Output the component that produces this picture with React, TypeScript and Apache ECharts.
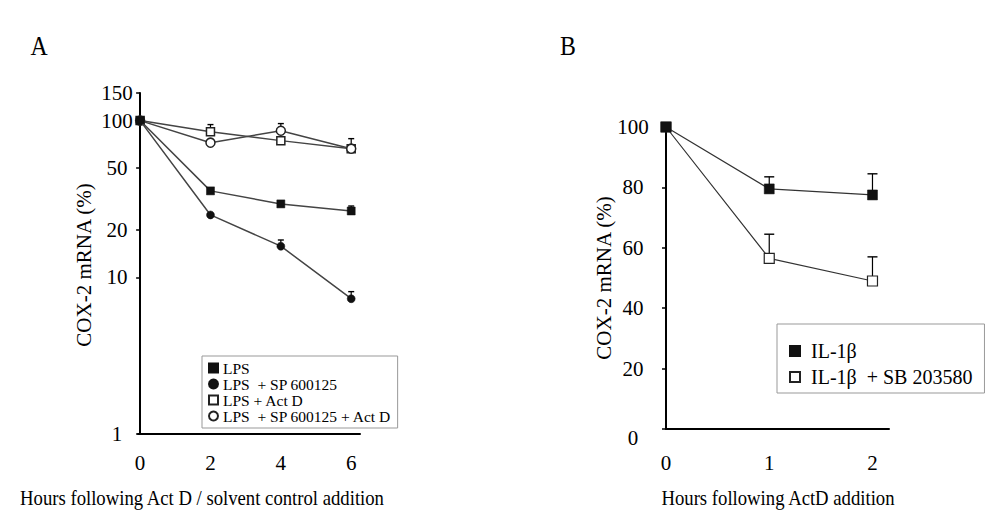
import React, { useEffect, useRef } from "react";
import * as echarts from "echarts";

// ---------- Panel A data (log scale) ----------
const hoursA = [0, 2, 4, 6];
const lps = [100, 35.6, 29.4, 26.5];
const lpsSp = [100, 25, 15.8, 7.3];
const lpsActD = [100, 85, 74.5, 66.2];
const lpsSpActD = [100, 72.3, 86.2, 66.2];
const lpsErrTop = [null, null, null, 28.5];
const lpsSpErrTop = [null, null, 17.3, 8.1];
const lpsActDErrTop = [null, 94.3, null, 76.7];
const lpsSpActDErrTop = [null, null, 95.7, null];
const yTicksA = [1, 10, 20, 50, 100, 150];
const xTicksA = [0, 2, 4, 6];
const namesA = [
  "LPS",
  "LPS\u00a0 + SP 600125",
  "LPS + Act D",
  "LPS\u00a0 + SP 600125 + Act D",
];

// ---------- Panel B data (linear scale) ----------
const hoursB = [0, 1, 2];
const il1b = [100, 79.5, 77.5];
const il1bSb = [100, 56.5, 49];
const il1bErrTop = [null, 83.5, 84.5];
const il1bSbErrTop = [null, 64.5, 57];
const namesB = ["IL-1β", "IL-1β\u00a0 + SB 203580"];

const FONT = "Liberation Serif";

const pairs = (xs: number[], ys: number[]) => xs.map((x, i) => [x, ys[i]]);
const errData = (xs: number[], ys: number[], tops: (number | null)[]) =>
  xs
    .map((x, i) => (tops[i] == null ? null : [x, ys[i], tops[i] as number]))
    .filter((d) => d !== null);

const errSeries = (data: any[], xi: number, cap: number): any => ({
  type: "custom",
  xAxisIndex: xi,
  yAxisIndex: xi,
  z: 1,
  silent: true,
  encode: { x: 0, y: 1 },
  data,
  renderItem: (params: any, api: any) => {
    const x = api.value(0);
    const y = api.value(1);
    const t = api.value(2);
    const p0 = api.coord([x, y]);
    const p1 = api.coord([x, t]);
    return {
      type: "group",
      children: [
        {
          type: "line",
          shape: { x1: p0[0], y1: p0[1], x2: p1[0], y2: p1[1] },
          style: { stroke: "#000", lineWidth: 1.2 },
        },
        {
          type: "line",
          shape: { x1: p1[0] - cap, y1: p1[1], x2: p1[0] + cap, y2: p1[1] },
          style: { stroke: "#000", lineWidth: 1.4 },
        },
      ],
    };
  },
});

export default function App() {
  const ref = useRef<HTMLDivElement>(null);

  useEffect(() => {
    const chart = echarts.init(ref.current!, null, { renderer: "svg" });

    const axisLine = { show: true, lineStyle: { color: "#000", width: 2 } };
    const labelStyle = { color: "#000", fontFamily: FONT, fontSize: 21 };

    const lineA = { color: "#444", width: 1.5 };
    const lineB = { color: "#333", width: 1.2 };

    const titleText = (
      text: string,
      x: number,
      y: number,
      size: number,
      rot = 0,
      sx = 1
    ) => ({
      type: "text",
      x,
      y,
      rotation: rot,
      scaleX: sx,
      style: {
        text,
        fontFamily: FONT,
        fontSize: size,
        fill: "#000",
        align: "center",
        verticalAlign: "middle",
      },
    });

    const option: any = {
      animation: false,
      backgroundColor: "#fff",
      textStyle: { fontFamily: FONT, color: "#000" },
      grid: [
        { left: 138, top: 93, width: 222, height: 341 },
        { left: 666, top: 127, width: 223, height: 302 },
      ],
      xAxis: [
        {
          gridIndex: 0,
          type: "value",
          min: -0.06,
          max: 6.25,
          axisLine,
          axisTick: { show: false },
          splitLine: { show: false },
          axisLabel: { ...labelStyle, customValues: xTicksA, margin: 18 },
        },
        {
          gridIndex: 1,
          type: "value",
          min: 0,
          max: 2.16,
          interval: 1,
          axisLine,
          axisTick: { show: false },
          splitLine: { show: false },
          axisLabel: {
            ...labelStyle,
            margin: 23,
            formatter: (v: number) => (v > 2 ? "" : String(v)),
          },
        },
      ],
      yAxis: [
        {
          gridIndex: 0,
          type: "log",
          logBase: 10,
          min: 1,
          max: 150,
          axisLine,
          axisTick: {
            show: true,
            customValues: yTicksA,
            length: 4,
            lineStyle: { color: "#000", width: 1.5 },
          },
          minorTick: { show: false },
          splitLine: { show: false },
          axisLabel: {
            ...labelStyle,
            customValues: yTicksA,
            align: "center",
            margin: 21,
          },
        },
        {
          gridIndex: 1,
          type: "value",
          min: 0,
          max: 100,
          interval: 20,
          axisLine,
          axisTick: {
            show: true,
            length: 4,
            lineStyle: { color: "#000", width: 1.5 },
          },
          splitLine: { show: false },
          axisLabel: {
            ...labelStyle,
            align: "center",
            margin: 33,
            formatter: (v: number) => (v === 0 ? "{low|0}" : String(v)),
            rich: {
              low: {
                fontFamily: FONT,
                fontSize: 21,
                color: "#000",
                padding: [18, 0, 0, 0],
              },
            },
          },
        },
      ],
      legend: [
        {
          orient: "vertical",
          left: 202,
          top: 356,
          itemWidth: 9,
          itemHeight: 9,
          itemGap: 0,
          padding: [4, 6, 4, 6],
          borderColor: "#999",
          borderWidth: 1,
          backgroundColor: "#fff",
          selectedMode: false,
          textStyle: {
            fontFamily: FONT,
            fontSize: 15.5,
            lineHeight: 15,
            color: "#000",
          },
          data: [
            { name: namesA[0], icon: "rect" },
            { name: namesA[1], icon: "circle" },
            { name: namesA[2], icon: "rect" },
            { name: namesA[3], icon: "circle" },
          ],
        },
        {
          orient: "vertical",
          left: 777,
          top: 324,
          itemWidth: 10,
          itemHeight: 10,
          itemGap: 6,
          padding: [17, 12, 6, 12],
          borderColor: "#999",
          borderWidth: 1,
          backgroundColor: "#fff",
          selectedMode: false,
          textStyle: {
            fontFamily: FONT,
            fontSize: 20,
            color: "#000",
            padding: [0, 0, 0, 6],
          },
          data: [
            { name: namesB[0], icon: "rect" },
            { name: namesB[1], icon: "rect" },
          ],
        },
      ],
      graphic: [
        titleText("A", 39, 46, 28, 0, 0.85),
        titleText("B", 568, 46, 28, 0, 0.85),
        titleText("Hours following Act D / solvent control addition", 202, 497, 22, 0, 0.85),
        titleText("Hours following ActD addition", 778, 497, 22, 0, 0.85),
        titleText("COX-2 mRNA (%)", 84, 265, 21, Math.PI / 2),
        titleText("COX-2 mRNA (%)", 604, 278, 21, Math.PI / 2),
      ],
      series: [
        errSeries(errData(hoursA, lps, lpsErrTop), 0, 3),
        errSeries(errData(hoursA, lpsSp, lpsSpErrTop), 0, 3),
        errSeries(errData(hoursA, lpsActD, lpsActDErrTop), 0, 3),
        errSeries(errData(hoursA, lpsSpActD, lpsSpActDErrTop), 0, 3),
        {
          name: namesA[0],
          type: "line",
          xAxisIndex: 0,
          yAxisIndex: 0,
          z: 5,
          data: pairs(hoursA, lps),
          symbol: "rect",
          symbolSize: 8,
          lineStyle: lineA,
          itemStyle: { color: "#111", borderColor: "#111", borderWidth: 0.5 },
        },
        {
          name: namesA[1],
          type: "line",
          xAxisIndex: 0,
          yAxisIndex: 0,
          z: 6,
          data: pairs(hoursA, lpsSp),
          symbol: "circle",
          symbolSize: 8,
          lineStyle: lineA,
          itemStyle: { color: "#111", borderColor: "#111", borderWidth: 0.5 },
        },
        {
          name: namesA[2],
          type: "line",
          xAxisIndex: 0,
          yAxisIndex: 0,
          z: 3,
          data: pairs(hoursA, lpsActD),
          symbol: "rect",
          symbolSize: 8,
          lineStyle: lineA,
          itemStyle: { color: "#fff", borderColor: "#222", borderWidth: 1.5 },
        },
        {
          name: namesA[3],
          type: "line",
          xAxisIndex: 0,
          yAxisIndex: 0,
          z: 4,
          data: pairs(hoursA, lpsSpActD),
          symbol: "circle",
          symbolSize: 9,
          lineStyle: lineA,
          itemStyle: { color: "#fff", borderColor: "#222", borderWidth: 1.5 },
        },
        errSeries(errData(hoursB, il1b, il1bErrTop), 1, 5),
        errSeries(errData(hoursB, il1bSb, il1bSbErrTop), 1, 5),
        {
          name: namesB[0],
          type: "line",
          xAxisIndex: 1,
          yAxisIndex: 1,
          z: 4,
          data: pairs(hoursB, il1b),
          symbol: "rect",
          symbolSize: 10,
          lineStyle: lineB,
          itemStyle: { color: "#111", borderColor: "#111", borderWidth: 0.5 },
        },
        {
          name: namesB[1],
          type: "line",
          xAxisIndex: 1,
          yAxisIndex: 1,
          z: 3,
          data: pairs(hoursB, il1bSb),
          symbol: "rect",
          symbolSize: 10,
          lineStyle: lineB,
          itemStyle: { color: "#fff", borderColor: "#222", borderWidth: 1.2 },
        },
      ],
    };

    chart.setOption(option);
    return () => chart.dispose();
  }, []);

  return (
    <div
      ref={ref}
      style={{ position: "absolute", left: 0, top: 0, width: 992, height: 513 }}
    />
  );
}
